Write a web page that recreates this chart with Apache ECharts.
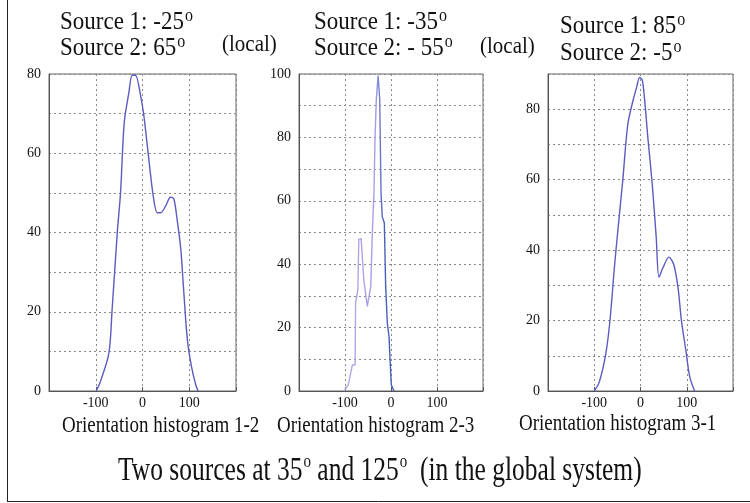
<!DOCTYPE html>
<html>
<head>
<meta charset="utf-8">
<script src="https://cdn.jsdelivr.net/npm/echarts@6/dist/echarts.min.js"></script>
<style>html,body{margin:0;padding:0;background:#fff}#c{width:750px;height:503px}</style>
</head>
<body>
<div id="c"></div>
<script>
// Orientation histograms: [angle (deg), count]
var hist12 = [[-99,0],[-90,2.4],[-72,9.5],[-65,20.5],[-54,39.9],[-47,50],[-39,67.8],[-29,75.4],[-22,79.7],[-15,79.7],[-4,74.5],[3,69.4],[13.5,58.5],[23,49.2],[31.5,45],[39,45],[49.5,46.7],[60,48.9],[67,48.5],[74,43.3],[82,35.7],[87.5,26.4],[96,12.9],[104.7,6.2],[114,1.5],[119,0]];
var hist23 = [[-102,0],[-93,1.9],[-84,8.2],[-78,8.2],[-77,27.7],[-72,32],[-70,47.8],[-65,48.1],[-62,41.5],[-59,35],[-51.5,26.7],[-48,26.7],[-44,33],[-40.6,49.9],[-37,62.6],[-34.8,79.4],[-32,92],[-28,99.5],[-24.6,92],[-21.7,62.6],[-19,55],[-14.5,53],[-11.6,33],[-8,21.4],[-4.3,17.2],[-2,9.8],[0.7,1.9],[6.5,0]];
var hist31 = [[-100,0],[-89,2.6],[-75,10.6],[-66,20],[-56.5,35],[-49,45.5],[-38.5,59.6],[-27.6,75.6],[-16.7,82.2],[-8,86.4],[-2,89],[3.6,88.4],[8.7,83],[16,71.8],[25.4,58.7],[34,43.6],[40,32.3],[48.5,35],[61.5,38],[71.7,36],[81,29.5],[88.5,20],[98,11.6],[106.5,4],[117,0]];
var yMax = [80, 100, 90];
var xTicks = [-100, 0, 100];
var panelTitles = ['Orientation histogram 1-2', 'Orientation histogram 2-3', 'Orientation histogram 3-1'];

var chart = echarts.init(document.getElementById('c'));
var serif = 'Liberation Serif, Times New Roman, serif';
var grids = [
  {left: 49, top: 74, width: 187, height: 317},
  {left: 299, top: 74, width: 184, height: 317},
  {left: 548, top: 74, width: 185, height: 317}
];
var gridLine = {show: true, lineStyle: {color: '#8a8a8a', type: [2, 3], width: 1}};
var xAxes = [], yAxes = [];
grids.forEach(function (g, i) {
  g.show = true; g.borderColor = '#666'; g.borderWidth = 1; g.containLabel = false;
  xAxes.push({
    type: 'value', gridIndex: i, min: -200, max: 200, interval: 100,
    axisLine: {show: true, onZero: false, lineStyle: {color: '#555'}},
    axisTick: {show: true, inside: true, length: 4, lineStyle: {color: '#555'}},
    splitLine: gridLine,
    axisLabel: {fontFamily: serif, fontSize: 14, color: '#111', margin: 5,
      formatter: function (v) { return xTicks.indexOf(v) >= 0 ? String(v) : ''; }}
  });
  yAxes.push({
    type: 'value', gridIndex: i, min: 0, max: yMax[i], interval: 10,
    axisLine: {show: true, onZero: false, lineStyle: {color: '#555'}},
    axisTick: {show: false},
    splitLine: gridLine,
    axisLabel: {fontFamily: serif, fontSize: 14, color: '#111', margin: 8,
      formatter: function (v) { return v % 20 === 0 ? String(v) : ''; }}
  });
});
var lineColor = '#5a5cc0';
function mk(data, i, smooth, color) {
  return {type: 'line', xAxisIndex: i, yAxisIndex: i, data: data, smooth: smooth, symbol: 'none',
    lineStyle: {color: color, width: 1.4}, silent: true, animation: false};
}
var grad = new echarts.graphic.LinearGradient(0, 0, 1, 0, [
  {offset: 0, color: '#b3acea'}, {offset: 0.62, color: '#a59ee4'}, {offset: 0.75, color: '#4a62bd'}, {offset: 1, color: '#3f5ab8'}
]);
function sup(main, x, y) {
  return {type: 'text', left: x, top: y, scaleY: 1.12, style: {
    text: '{a|' + main + '}{s|o}',
    rich: {a: {fontFamily: serif, fontSize: 23, fill: '#111'}, s: {fontFamily: serif, fontSize: 16, fill: '#111', verticalAlign: 'top', padding: [0,0,12,1]}}
  }};
}
function txt(t, x, y, size, sy) {
  return {type: 'text', left: x, top: y, scaleY: sy || 1, style: {text: t, fontFamily: serif, fontSize: size, fill: '#111'}};
}
chart.setOption({
  animation: false,
  grid: grids,
  xAxis: xAxes,
  yAxis: yAxes,
  series: [mk(hist12, 0, 0.3, lineColor), mk(hist23, 1, false, grad), mk(hist31, 2, 0.3, lineColor)],
  graphic: [
    {type: 'line', shape: {x1: 7.5, y1: 0, x2: 7.5, y2: 501}, style: {stroke: '#222', lineWidth: 1}},
    {type: 'line', shape: {x1: 7, y1: 501.5, x2: 750, y2: 501.5}, style: {stroke: '#222', lineWidth: 1}},
    sup('Source 1: -25', 60, 7),
    sup('Source 2: 65', 60, 33),
    txt('(local)', 222, 33, 21, 1.12),
    sup('Source 1: -35', 314, 7),
    sup('Source 2: - 55', 314, 33),
    txt('(local)', 480, 35, 21, 1.12),
    sup('Source 1: 85', 560, 11),
    sup('Source 2: -5', 560, 38),
    txt(panelTitles[0], 62, 415, 19, 1.2),
    txt(panelTitles[1], 277, 415, 19, 1.2),
    txt(panelTitles[2], 519, 413, 19, 1.2),
    {type: 'text', left: 118, top: 452, scaleY: 1.3, style: {
      text: '{a|Two sources at 35}{s|o}{a| and 125}{s|o}{a|  (in the global system)}',
      rich: {a: {fontFamily: serif, fontSize: 25.5, fill: '#111'}, s: {fontFamily: serif, fontSize: 15, fill: '#111', verticalAlign: 'top', padding: [0,0,15,1]}}
    }}
  ]
});
</script>
</body>
</html>
